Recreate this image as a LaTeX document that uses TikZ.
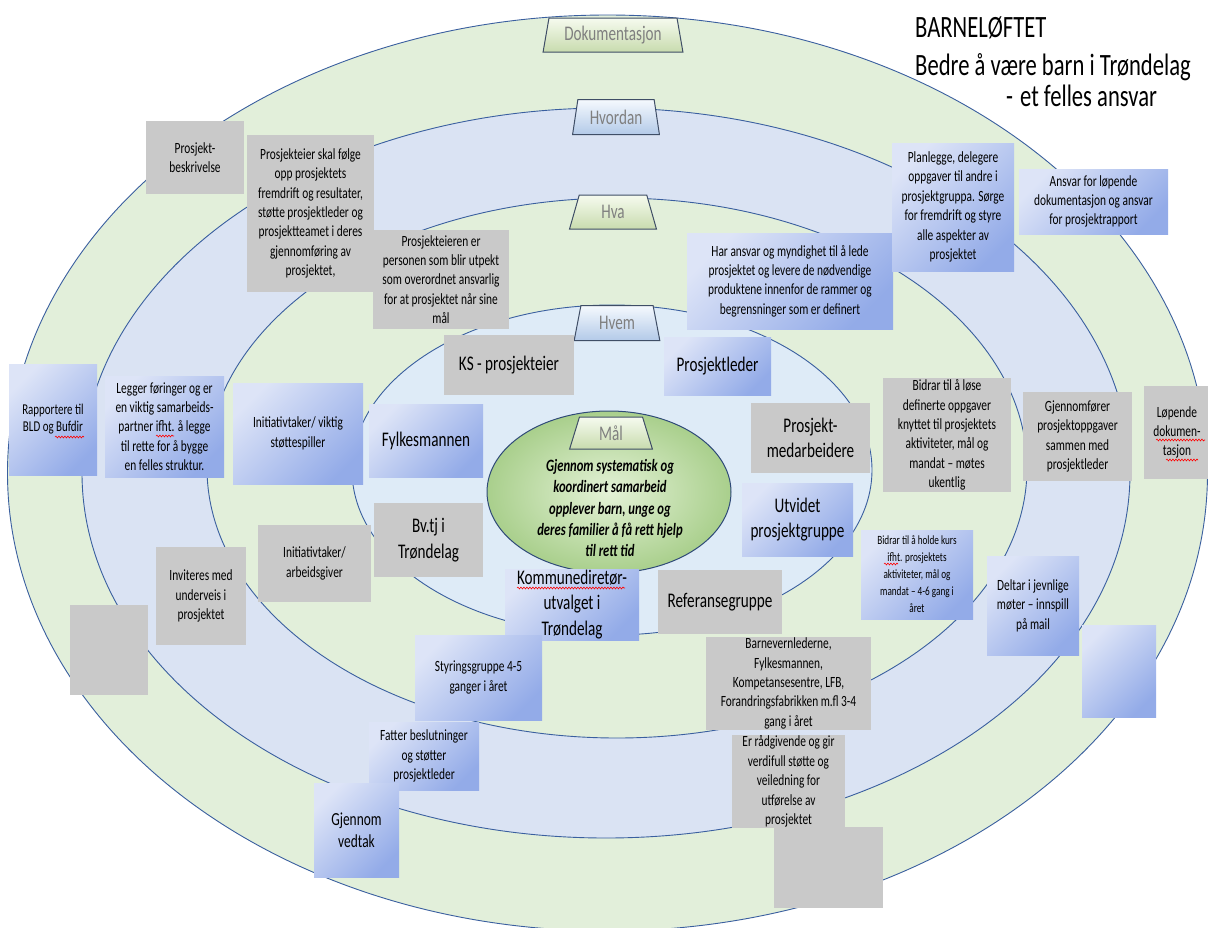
\documentclass[tikz,border=0pt]{standalone}
\usepackage{fontspec}
\setmainfont{Carlito}[FakeStretch=0.73]
\usetikzlibrary{shapes.geometric,decorations.pathmorphing}
\definecolor{ringgreen}{HTML}{E2EFDA}
\definecolor{ringblue}{HTML}{DAE3F3}
\definecolor{ringinner}{HTML}{DEEBF7}
\definecolor{ringline}{HTML}{3A5F9F}
\definecolor{boxgray}{HTML}{C9C9C9}
\definecolor{bL}{HTML}{DDE4F7}
\definecolor{bD}{HTML}{93ABE8}
\definecolor{labline}{HTML}{3F4E66}
\definecolor{labtext}{HTML}{7F7F7F}
\definecolor{lgT}{HTML}{F6FBEF}
\definecolor{lgB}{HTML}{C8DBAE}
\definecolor{lbT}{HTML}{F5F9FE}
\definecolor{lbB}{HTML}{B3CAE8}
\definecolor{goalIn}{HTML}{E4F2D7}
\definecolor{goalOut}{HTML}{A9CF8C}
\definecolor{goalLine}{HTML}{2F4A78}
\newcommand{\myN}{\fontsize{15.6}{19.4}\selectfont}
\newcommand{\myS}{\fontsize{12.6}{17}\selectfont}
\newcommand{\myR}{\fontsize{15}{17}\selectfont}
\newcommand{\myL}{\fontsize{20.8}{25.5}\selectfont}
\newcommand{\myM}{\fontsize{18.4}{21.8}\selectfont}
\newcommand{\myT}{\fontsize{31}{36}\selectfont}
\newcommand{\bx}[7]{\node[#1, minimum width={#5-#3}, minimum height={#6-#4}] (#2) at ({(#3+#5)/2},{(#4+#6)/2}) {#7};}
\tikzset{
  ring/.style={draw=ringline, line width=0.9pt},
  basebox/.style={inner sep=1pt, outer sep=0pt, align=center, text=black, font=\myN},
  graybox/.style={basebox, fill=boxgray},
  bluebox/.style={basebox, left color=bL, right color=bD, shading angle=45},
  lab/.style={trapezium, trapezium stretches=true, trapezium left angle=76, trapezium right angle=76, draw=labline, line width=1pt, text=labtext, font=\myL, inner sep=0pt},
  labg/.style={lab, top color=lgT, bottom color=lgB},
  labb/.style={lab, top color=lbT, bottom color=lbB},
  goal/.style={ellipse, draw=goalLine, line width=1pt, inner color=goalIn, outer color=goalOut, minimum width=244, minimum height=162},
  squig/.style={draw=red, line width=0.6pt, decorate, decoration={snake, segment length=3pt, amplitude=0.9pt}},
}
\begin{document}
\begin{tikzpicture}[x=1pt,y=-1pt]
\useasboundingbox (0,0) rectangle (1208,927);
\fill[white] (0,0) rectangle (1208,927);
% rings
\draw[ring, fill=ringgreen] (607.5,473) ellipse [x radius=600, y radius=458];
\draw[ring, fill=ringblue] (606,473) ellipse [x radius=524, y radius=365];
\draw[ring, fill=ringgreen] (617,468) ellipse [x radius=410, y radius=270];
\draw[ring, fill=ringinner] (612,470) ellipse [x radius=260, y radius=165];
% goal
\node[goal] (goal) at (609,492) {};
\node[align=center, font=\fontsize{17.3}{21.2}\selectfont\bfseries\itshape] (goaltext) at (610,508)
 {Gjennom systematisk og\\koordinert samarbeid\\opplever barn, unge og\\deres familier å få rett hjelp\\til rett tid};
% ring labels
\node[labg, minimum width=140, minimum height=34] (dok) at (613,35) {Dokumentasjon};
\node[labb, minimum width=87, minimum height=35] (hvordan) at (616,117) {Hvordan};
\node[labg, minimum width=87, minimum height=34] (hva) at (613,212) {Hva};
\node[labb, minimum width=86, minimum height=35] (hvem) at (617,323) {Hvem};
\node[labg, minimum width=83, minimum height=32] (maal) at (611,433) {Mål};
% title
\node[anchor=base west, font=\myT, inner sep=0pt] (t1) at (915,37) {BARNELØFTET};
\node[anchor=base west, font=\myT, inner sep=0pt] (t2) at (915,75) {Bedre å være barn i Trøndelag};
\node[anchor=base west, font=\myT, inner sep=0pt] (t3) at (1006,106) {-\hspace{7pt}et felles ansvar};
% boxes
\bx{graybox}{pb}{146}{121}{244}{194}{Prosjekt-\\beskrivelse}
\bx{graybox}{pe}{247}{135}{374}{292}{Prosjekteier skal følge\\opp prosjektets\\fremdrift og resultater,\\støtte prosjektleder og\\prosjektteamet i deres\\gjennomføring av\\prosjektet,}
\bx{graybox}{per}{373}{230}{509}{329}{Prosjekteieren er\\personen som blir utpekt\\som overordnet ansvarlig\\for at prosjektet når sine\\mål}
\bx{bluebox}{har}{687}{233}{893}{329}{Har ansvar og myndighet til å lede\\prosjektet og levere de nødvendige\\produktene innenfor de rammer og\\begrensninger som er definert}
\bx{bluebox}{plan}{892}{143}{1014}{271}{Planlegge, delegere\\oppgaver til andre i\\prosjektgruppa. Sørge\\for fremdrift og styre\\alle aspekter av\\prosjektet}
\bx{bluebox}{ans}{1019}{169}{1168}{234}{Ansvar for løpende\\dokumentasjon og ansvar\\for prosjektrapport}
\bx{graybox, font=\myL}{ks}{444}{335}{574}{395}{KS - prosjekteier}
\bx{bluebox, font=\myL}{pl}{664}{337}{771}{395}{Prosjektleder}
\bx{bluebox, font=\myR}{rap}{9}{364}{97}{475}{Rapportere til\\BLD og Bufdir}
\bx{bluebox}{leg}{105}{376}{224}{477}{Legger føringer og er\\en viktig samarbeids-\\partner ifht. å legge\\til rette for å bygge\\en felles struktur.}
\bx{bluebox}{ini}{233}{383}{363}{484}{Initiativtaker/ viktig\\støttespiller}
\bx{bluebox, font=\myL}{fyl}{369}{404}{483}{477}{Fylkesmannen}
\bx{graybox, font=\myL}{pmed}{751}{403}{870}{473}{Prosjekt-\\medarbeidere}
\bx{graybox}{bl}{883}{378}{1011}{492}{Bidrar til å løse\\definerte oppgaver\\knyttet til prosjektets\\aktiviteter, mål og\\mandat – møtes\\ukentlig}
\bx{graybox}{gj}{1023}{392}{1132}{481}{Gjennomfører\\prosjektoppgaver\\sammen med\\prosjektleder}
\bx{graybox}{lop}{1144}{386}{1210}{479}{Løpende\\dokumen-\\tasjon}
\bx{graybox, font=\myL}{bv}{374}{503}{483}{577}{Bv.tj i\\Trøndelag}
\bx{graybox}{iarb}{258}{525}{371}{602}{Initiativtaker/\\arbeidsgiver}
\bx{bluebox, font=\myL}{utv}{742}{483}{853}{556}{Utvidet\\prosjektgruppe}
\bx{bluebox, font=\myS}{bk}{861}{530}{973}{619}{Bidrar til å holde kurs\\ifht. prosjektets\\aktiviteter, mål og\\mandat – 4-6 gang i\\året}
\bx{bluebox}{del}{987}{556}{1079}{655}{Deltar i jevnlige\\møter – innspill\\på mail}
\bx{graybox}{inv}{156}{547}{246}{645}{Inviteres med\\underveis i\\prosjektet}
\bx{graybox}{emp1}{70}{605}{148}{695}{}
\bx{bluebox, font=\myL}{kom}{505}{569}{639}{640}{Kommunediretør-\\utvalget i\\Trøndelag}
\bx{graybox, font=\myL}{ref}{658}{570}{782}{634}{Referansegruppe}
\bx{bluebox}{sty}{415}{635}{542}{720}{Styringsgruppe 4-5\\ganger i året}
\bx{graybox}{barn}{706}{638}{871}{729}{Barnevernlederne,\\Fylkesmannen,\\Kompetansesentre, LFB,\\Forandringsfabrikken m.fl 3-4\\gang i året}
\bx{bluebox}{emp3}{1082}{625}{1156}{717}{}
\bx{bluebox}{fat}{369}{722}{479}{790}{Fatter beslutninger\\og støtter\\prosjektleder}
\bx{graybox}{er}{732}{735}{845}{828}{Er rådgivende og gir\\verdifull støtte og\\veiledning for\\utførelse av\\prosjektet}
\bx{bluebox, font=\myM}{gv}{314}{783}{399}{877}{Gjennom\\vedtak}
\bx{graybox}{emp2}{774}{827}{883}{908}{}
% spelling marks
\path[squig] (55,437) -- (84,437);
\path[squig] (156,436) -- (174,436);
\path[squig] (884,564) -- (898,564);
\path[squig] (1156,440) -- (1205,440);
\path[squig] (1166,460) -- (1198,460);
\path[squig] (517,588) -- (625,588);
\end{tikzpicture}
\end{document}
